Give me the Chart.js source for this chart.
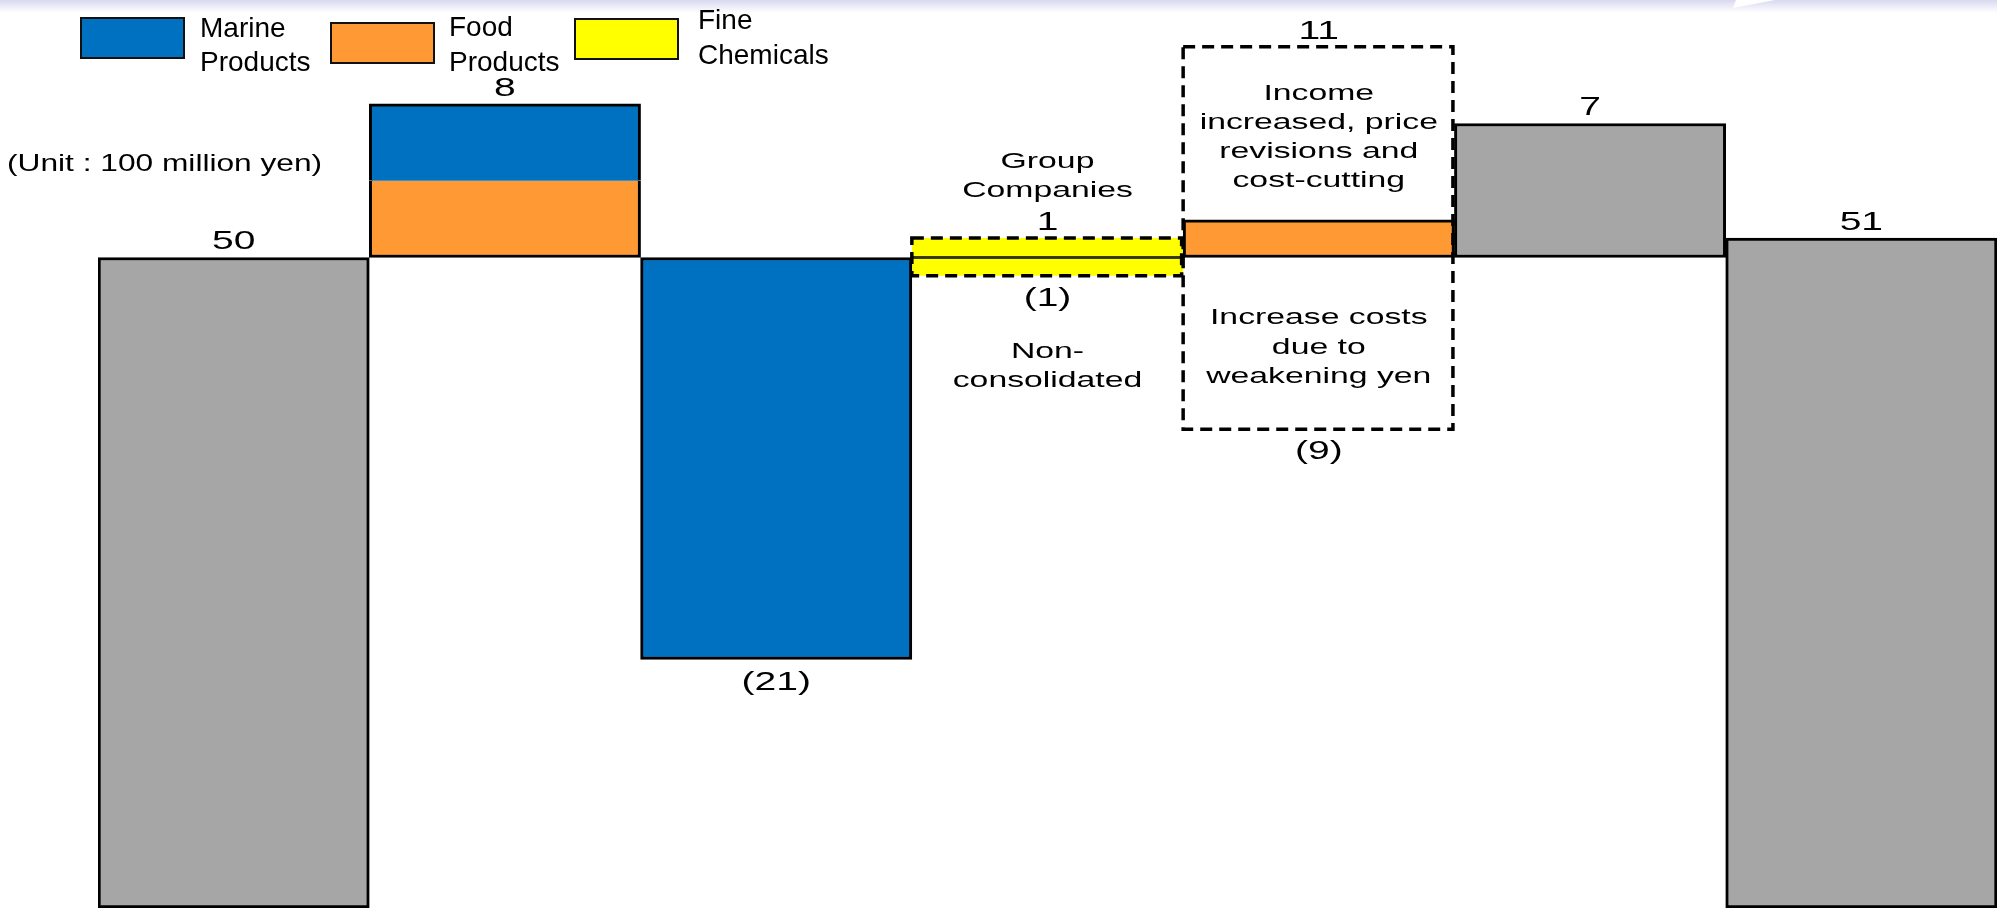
<!DOCTYPE html>
<html>
<head>
<meta charset="utf-8">
<script src="https://cdn.jsdelivr.net/npm/chart.js@4"></script>
<style>
  html, body { margin: 0; padding: 0; }
  body {
    width: 1997px; height: 908px; overflow: hidden; position: relative;
    background: linear-gradient(to bottom, #d8d8ef 0px, #e8e8f6 5px, #ffffff 13px);
  }
  canvas { display: block; position: relative; }
  .swoosh { position: absolute; left: 1730px; top: 0; width: 45px; height: 8px; background: #fff;
    clip-path: polygon(3px 8px, 6px 0, 45px 0); }
</style>
</head>
<body>
<div class="swoosh"></div>
<canvas id="grafico" width="1997" height="908"></canvas>
<script>
// steps of the bridge, left to right (the axis itself is not shown)
const categories = ["Previous", "Marine & Food", "Marine", "Fine Chemicals", "Prices / yen", "Others", "Current"];

// amounts written on the chart (100 million yen)
const labelsAbove = ["50", "8", "", "1", "11", "7", "51"];
const labelsBelow = ["", "", "(21)", "(1)", "(9)", "", ""];

// bar extents as drawn in the picture (the drawing is schematic, base level = 50)
const grayBars = [[0, 50], null, null, null, null, [50, 60.3], [0, 51.5]];
const marineBars = [null, [55.9, 61.8], [19.1, 50], null, null, null, null];
const foodBars = [null, [50, 55.9], null, null, [50, 52.9], null, null];
const chemUpBars = [null, null, null, [50, 51.5], null, null, null];
const chemDownBars = [null, null, null, [48.6, 50], null, null, null];
// dashed frames: [step, low, high]
const dashedBoxes = [[3, 48.6, 51.5], [4, 36.8, 66.2]];

const legendItems = [["Marine", "Products"], ["Food", "Products"], ["Fine", "Chemicals"]];
const unitText = "(Unit : 100 million yen)";
const noteGroup = ["Group", "Companies"];
const noteNonConsol = ["Non-", "consolidated"];
const noteIncome = ["Income", "increased, price", "revisions and", "cost-cutting"];
const noteCosts = ["Increase costs", "due to", "weakening yen"];

const colores = { gray: "#A6A6A6", marine: "#0070C0", food: "#FF9933", chem: "#FFFF00" };

function texto(ctx, str, x, y, size, stretch, align) {
  ctx.save();
  ctx.font = size + 'px "Liberation Sans", Arial, sans-serif';
  ctx.fillStyle = "#000";
  ctx.textAlign = align || "center";
  ctx.textBaseline = "alphabetic";
  ctx.translate(x, y);
  ctx.scale(stretch, 1);
  ctx.fillText(str, 0, 0);
  ctx.restore();
}

// top / bottom of each step, from the bars and the dashed frames
function extents(i) {
  let hi = -Infinity, lo = Infinity;
  [grayBars, marineBars, foodBars, chemUpBars, chemDownBars].forEach((arr) => {
    if (arr[i]) { hi = Math.max(hi, arr[i][1]); lo = Math.min(lo, arr[i][0]); }
  });
  dashedBoxes.forEach(([k, l, h]) => {
    if (k === i) { hi = Math.max(hi, h); lo = Math.min(lo, l); }
  });
  return { hi, lo };
}

const extras = {
  id: "extras",
  afterDatasetsDraw(chart) {
    const ctx = chart.ctx;
    const xs = chart.scales.x;
    const ys = chart.scales.y;
    const half = (xs.getPixelForValue(1) - xs.getPixelForValue(0)) / 2;

    // dashed frames
    ctx.save();
    ctx.strokeStyle = "#000";
    ctx.lineWidth = 3.5;
    ctx.setLineDash([12, 7]);
    dashedBoxes.forEach(([i, lo, hi]) => {
      const x0 = xs.getPixelForValue(i) - half;
      const y0 = ys.getPixelForValue(hi);
      const y1 = ys.getPixelForValue(lo);
      ctx.strokeRect(x0, y0, 2 * half - 1.5, y1 - y0);
    });
    ctx.restore();

    // amounts
    categories.forEach((c, i) => {
      const cx = xs.getPixelForValue(i);
      const e = extents(i);
      if (labelsAbove[i]) texto(ctx, labelsAbove[i], cx, ys.getPixelForValue(e.hi) - 8, 26, 1.5);
      if (labelsBelow[i]) texto(ctx, labelsBelow[i], cx, ys.getPixelForValue(e.lo) + 30, 26, 1.5);
    });

    // notes
    const base = ys.getPixelForValue(50);
    const x3 = xs.getPixelForValue(3);
    const x4 = xs.getPixelForValue(4);
    const e3 = extents(3);
    const e4 = extents(4);
    const top3 = ys.getPixelForValue(e3.hi);
    const bot3 = ys.getPixelForValue(e3.lo);
    noteGroup.forEach((t, k) => texto(ctx, t, x3, top3 - 70 + k * 28.8, 22.5, 1.5));
    noteNonConsol.forEach((t, k) => texto(ctx, t, x3, bot3 + 82 + k * 29.5, 22.5, 1.5));
    const top4 = ys.getPixelForValue(e4.hi);
    noteIncome.forEach((t, k) => texto(ctx, t, x4, top4 + 53 + k * 29.2, 22.5, 1.5));
    noteCosts.forEach((t, k) => texto(ctx, t, x4, base + 67 + k * 29.2, 22.5, 1.5));

    // unit
    texto(ctx, unitText, 7, 171, 24, 1.32, "left");

    // legend
    const cajas = [[81, 18, colores.marine], [331, 23, colores.food], [575, 19, colores.chem]];
    const textX = [200, 449, 698];
    const textY = [[37, 71], [36, 71], [29, 64]];
    ctx.save();
    cajas.forEach(([x, y, col]) => {
      ctx.fillStyle = col;
      ctx.fillRect(x, y, 103, 40);
      ctx.strokeStyle = "#111";
      ctx.lineWidth = 2;
      ctx.strokeRect(x, y, 103, 40);
    });
    ctx.restore();
    legendItems.forEach((lines, i) => {
      lines.forEach((t, k) => texto(ctx, t, textX[i], textY[i][k], 28, 1, "left"));
    });
  },
};

const ctx = document.getElementById("grafico").getContext("2d");
const full = 3;

new Chart(ctx, {
  type: "bar",
  data: {
    labels: categories,
    datasets: [
      {
        label: "Total",
        data: grayBars,
        backgroundColor: colores.gray,
        borderColor: "#000",
        borderWidth: full,
      },
      {
        label: "Marine Products",
        data: marineBars,
        backgroundColor: colores.marine,
        borderColor: "#000",
        borderWidth: (c) => (c.dataIndex === 1 ? { top: full, left: full, right: full, bottom: 0 } : full),
      },
      {
        label: "Food Products",
        data: foodBars,
        backgroundColor: colores.food,
        borderColor: "#000",
        borderWidth: (c) => (c.dataIndex === 1 ? { top: 0, left: full, right: full, bottom: full } : full),
      },
      {
        label: "Fine Chemicals (Group Companies)",
        data: chemUpBars,
        backgroundColor: colores.chem,
        borderColor: "#000",
        borderWidth: { top: 0, left: 0, right: 0, bottom: 1.5 },
      },
      {
        label: "Fine Chemicals (Non-consolidated)",
        data: chemDownBars,
        backgroundColor: colores.chem,
        borderColor: "#000",
        borderWidth: { top: 1.5, left: 0, right: 0, bottom: 0 },
      },
    ],
  },
  options: {
    responsive: false,
    animation: false,
    layout: { padding: { left: 98, right: 0, top: 0, bottom: 0 } },
    datasets: {
      bar: { grouped: false, barPercentage: 1, categoryPercentage: 1, borderSkipped: false },
    },
    plugins: {
      legend: { display: false },
      tooltip: { enabled: false },
    },
    scales: {
      x: { display: false, offset: true },
      y: { display: false, min: 0, max: 69.79 },
    },
  },
  plugins: [extras],
});
</script>
</body>
</html>
